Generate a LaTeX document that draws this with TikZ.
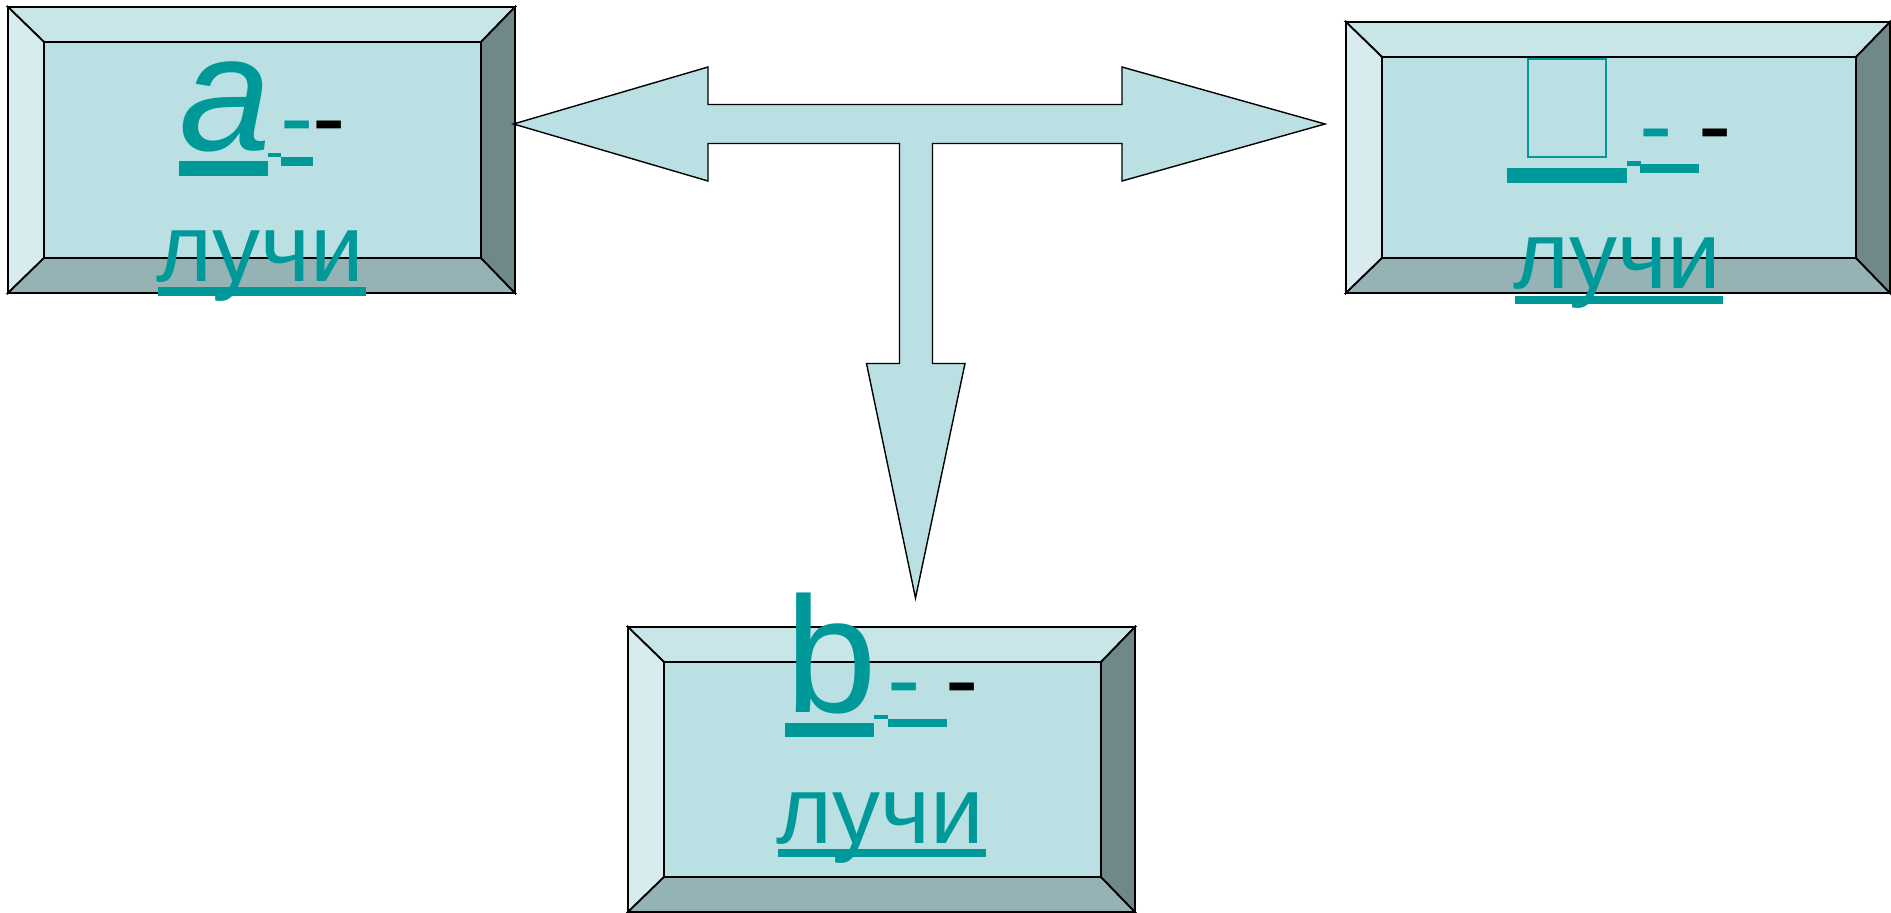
\documentclass[tikz,border=0pt]{standalone}
\usepackage{fontspec}
\setmainfont{Liberation Sans}
\definecolor{tealT}{RGB}{0,153,153}
\definecolor{bvT}{RGB}{200,229,232}
\definecolor{bvL}{RGB}{216,236,239}
\definecolor{bvC}{RGB}{186,224,227}
\definecolor{bvB}{RGB}{149,179,180}
\definecolor{bvR}{RGB}{111,136,137}
\tikzset{
  bev/.style={draw=black, line width=1.8pt, line join=miter},
  lbl/.style={inner sep=0pt, outer sep=0pt, text=tealT, anchor=base, font=\fontsize{96}{96}\selectfont},
  big/.style={inner sep=0pt, outer sep=0pt, text=tealT, anchor=base west, font=\fontsize{165}{165}\selectfont},
  hy/.style={inner sep=0pt, outer sep=0pt, text=tealT, anchor=base, font=\fontsize{100}{100}\selectfont},
  ul/.style={fill=tealT},
  bigarrow/.style={draw=black, line width=1.4pt, fill=bvC, line join=miter},
}
% name, x1, y1, x2, y2  (pixel units, y downward)
\newcommand\bevbox[5]{%
  \filldraw[bev, fill=bvT] (#2,#3) -- (#4,#3) -- (#4-34,#3+35) -- (#2+36,#3+35) -- cycle;
  \filldraw[bev, fill=bvL] (#2,#3) -- (#2+36,#3+35) -- (#2+36,#5-35) -- (#2,#5) -- cycle;
  \filldraw[bev, fill=bvB] (#2,#5) -- (#2+36,#5-35) -- (#4-34,#5-35) -- (#4,#5) -- cycle;
  \filldraw[bev, fill=bvR] (#4,#3) -- (#4,#5) -- (#4-34,#5-35) -- (#4-34,#3+35) -- cycle;
  \filldraw[bev, fill=bvC] (#2+36,#3+35) rectangle (#4-34,#5-35);
  \coordinate (#1) at ({(#2+#4)/2},{(#3+#5)/2});
}
\begin{document}
\begin{tikzpicture}[x=1pt, y=-1pt]
\useasboundingbox (0,0) rectangle (1891,913);

% boxes
\bevbox{boxA}{8}{7}{515}{293}
\bevbox{boxR}{1346}{22}{1890}{293}
\bevbox{boxB}{628}{627}{1135}{912}

% T-shaped arrow
\filldraw[bigarrow] (513.5,124) -- (708,67) -- (708,104.5) -- (1122,104.5) -- (1122,67)
  -- (1325,124) -- (1122,181) -- (1122,143.5) -- (932.5,143.5) -- (932.5,363.5)
  -- (965,363.5) -- (915.5,598) -- (866.5,363.5) -- (899.5,363.5) -- (899.5,143.5)
  -- (708,143.5) -- (708,181) -- cycle;

% ---- box A text
\node[big, font=\fontsize{165}{165}\selectfont\itshape] (aL) at (179,150) {a};
\fill[ul] (179,161) rectangle (268,176);
\fill[ul] (268,153) rectangle (281,157);
\fill[ul] (281,157) rectangle (313,166);
\node[hy] (aH1) at (297,151) {-};
\node[hy, text=black] (aH2) at (329,151) {-};
\node[lbl] (aT) at (260,281) {лучи};
\fill[ul] (158,287) rectangle (366,296);

% ---- box R text
\node[draw=tealT, line width=2.6pt, inner sep=0pt, minimum width=78pt, minimum height=98pt, anchor=center] (rL) at (1567,108) {};
\fill[ul] (1507,168) rectangle (1627,183);
\fill[ul] (1627,161) rectangle (1641,166);
\fill[ul] (1640,164) rectangle (1699,173);
\node[hy] (rH1) at (1656,159) {-};
\node[hy, text=black] (rH2) at (1715,159) {-};
\node[lbl] (rT) at (1617,288) {лучи};
\fill[ul] (1515,296) rectangle (1723,304);

% ---- box B text
\node[big] (bL) at (785,712) {b};
\fill[ul] (785,723) rectangle (874,737);
\fill[ul] (874,715) rectangle (888,719);
\fill[ul] (888,719) rectangle (947,727);
\node[hy] (bH1) at (904,713) {-};
\node[hy, text=black] (bH2) at (962,713) {-};
\node[lbl] (bT) at (880,843) {лучи};
\fill[ul] (778,849) rectangle (986,857);
\end{tikzpicture}
\end{document}
